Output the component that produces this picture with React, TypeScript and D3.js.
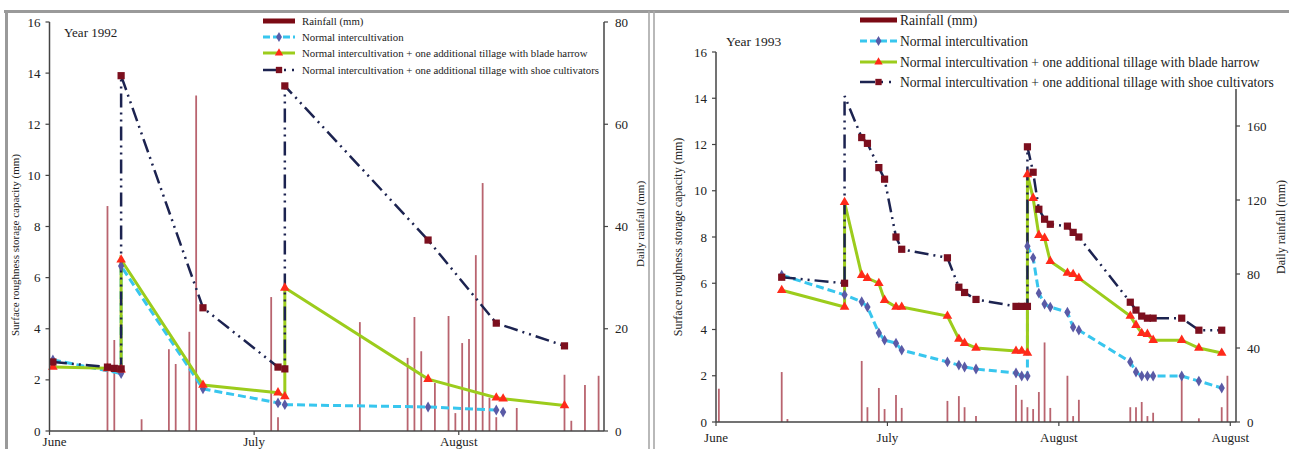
import React from 'react'
import * as d3 from 'd3'

// ---- 1992 season ----
const rain92Dates = ['1992-06-10', '1992-06-11', '1992-06-15', '1992-06-19', '1992-06-20', '1992-06-22', '1992-06-23', '1992-07-04', '1992-07-05', '1992-07-17', '1992-07-24', '1992-07-25', '1992-07-26', '1992-07-28', '1992-07-30', '1992-07-31', '1992-08-01', '1992-08-02', '1992-08-03', '1992-08-04', '1992-08-05', '1992-08-06', '1992-08-09', '1992-08-16', '1992-08-17', '1992-08-19', '1992-08-21']
const rain92 = [44, 17.8, 2.3, 16, 13.1, 19.4, 65.6, 26.2, 2.7, 21.3, 14.3, 22.3, 15.6, 9.4, 22.5, 3.5, 17.2, 18, 34.4, 48.5, 6.5, 2.7, 4.5, 11, 2, 9, 10.8]

const normal92Dates = ['1992-06-02', '1992-06-12', '1992-06-12', '1992-06-24', '1992-07-05', '1992-07-06', '1992-07-27', '1992-08-06', '1992-08-07']
const normal92 = [2.78, 2.25, 6.45, 1.65, 1.1, 1.03, 0.94, 0.82, 0.74]

const blade92Dates = ['1992-06-02', '1992-06-10', '1992-06-12', '1992-06-12', '1992-06-24', '1992-07-05', '1992-07-06', '1992-07-06', '1992-07-27', '1992-08-06', '1992-08-07', '1992-08-16']
const blade92 = [2.5, 2.45, 2.4, 6.7, 1.8, 1.5, 1.35, 5.6, 2.03, 1.3, 1.26, 1.0]

const shoe92Dates = ['1992-06-02', '1992-06-10', '1992-06-11', '1992-06-12', '1992-06-12', '1992-06-24', '1992-07-05', '1992-07-06', '1992-07-06', '1992-07-27', '1992-08-06', '1992-08-16']
const shoe92 = [2.7, 2.5, 2.45, 2.43, 13.9, 4.82, 2.5, 2.43, 13.5, 7.47, 4.22, 3.33]

// ---- 1993 season ----
const rain93Dates = ['1993-06-02', '1993-06-13', '1993-06-14', '1993-06-27', '1993-06-28', '1993-06-30', '1993-07-01', '1993-07-03', '1993-07-04', '1993-07-12', '1993-07-14', '1993-07-15', '1993-07-17', '1993-07-24', '1993-07-25', '1993-07-26', '1993-07-27', '1993-07-28', '1993-07-29', '1993-07-30', '1993-08-02', '1993-08-03', '1993-08-04', '1993-08-13', '1993-08-14', '1993-08-15', '1993-08-16', '1993-08-17', '1993-08-22', '1993-08-25', '1993-08-29', '1993-08-30']
const rain93 = [18, 27, 1.6, 33, 8, 18.4, 7, 14.6, 7.6, 11.4, 14, 8, 3.2, 20, 12, 8, 7, 16.2, 43, 7.6, 25, 3.2, 12, 8, 8, 10.8, 3.2, 5, 25, 2, 8, 25]

const normal93Dates = ['1993-06-13', '1993-06-24', '1993-06-27', '1993-06-28', '1993-06-30', '1993-07-01', '1993-07-03', '1993-07-04', '1993-07-12', '1993-07-14', '1993-07-15', '1993-07-17', '1993-07-24', '1993-07-25', '1993-07-26', '1993-07-26', '1993-07-27', '1993-07-28', '1993-07-29', '1993-07-30', '1993-08-02', '1993-08-03', '1993-08-04', '1993-08-13', '1993-08-14', '1993-08-15', '1993-08-16', '1993-08-17', '1993-08-22', '1993-08-25', '1993-08-29']
const normal93 = [6.35, 5.5, 5.2, 4.97, 3.85, 3.54, 3.41, 3.11, 2.6, 2.46, 2.38, 2.29, 2.12, 1.99, 1.99, 7.6, 7.1, 5.57, 5.1, 4.97, 4.75, 4.1, 3.97, 2.6, 2.16, 1.99, 1.99, 1.99, 1.99, 1.77, 1.47]

const blade93Dates = ['1993-06-13', '1993-06-24', '1993-06-24', '1993-06-27', '1993-06-28', '1993-06-30', '1993-07-01', '1993-07-03', '1993-07-04', '1993-07-12', '1993-07-14', '1993-07-15', '1993-07-17', '1993-07-24', '1993-07-25', '1993-07-26', '1993-07-26', '1993-07-27', '1993-07-28', '1993-07-29', '1993-07-30', '1993-08-02', '1993-08-03', '1993-08-04', '1993-08-13', '1993-08-14', '1993-08-15', '1993-08-16', '1993-08-17', '1993-08-22', '1993-08-25', '1993-08-29']
const blade93 = [5.7, 4.97, 9.5, 6.35, 6.22, 6.0, 5.27, 4.97, 4.97, 4.58, 3.59, 3.41, 3.2, 3.07, 3.07, 2.98, 10.7, 9.68, 8.08, 7.95, 6.95, 6.44, 6.39, 6.22, 4.58, 4.19, 3.84, 3.8, 3.54, 3.54, 3.2, 2.98]

const shoe93Dates = ['1993-06-13', '1993-06-24', '1993-06-24', '1993-06-27', '1993-06-28', '1993-06-30', '1993-07-01', '1993-07-03', '1993-07-04', '1993-07-12', '1993-07-14', '1993-07-15', '1993-07-17', '1993-07-24', '1993-07-25', '1993-07-26', '1993-07-26', '1993-07-27', '1993-07-28', '1993-07-29', '1993-07-30', '1993-08-02', '1993-08-03', '1993-08-04', '1993-08-13', '1993-08-14', '1993-08-15', '1993-08-16', '1993-08-17', '1993-08-22', '1993-08-25', '1993-08-29']
const shoe93 = [6.26, 6.0, 14.1, 12.3, 12.05, 11.0, 10.5, 8.0, 7.47, 7.1, 5.83, 5.6, 5.3, 5.0, 5.0, 5.0, 11.9, 10.8, 9.2, 8.77, 8.55, 8.47, 8.2, 8.0, 5.18, 4.84, 4.58, 4.49, 4.49, 4.49, 3.97, 3.97]

// ---- axes / labels ----
const surfaceTicks = [0, 2, 4, 6, 8, 10, 12, 14, 16]
const rainTicks92 = [0, 20, 40, 60, 80]
const rainTicks93 = [0, 40, 80, 120, 160]
const monthLabels92 = ['June', 'July', 'August']
const monthLabels93 = ['June', 'July', 'August', 'August']
const legendLabels = [
  'Rainfall (mm)',
  'Normal intercultivation',
  'Normal intercultivation + one additional tillage with blade harrow',
  'Normal intercultivation + one additional tillage with shoe cultivators'
]
const leftTitle = 'Surface roughness storage capacity (mm)'
const rightTitle = 'Daily rainfall (mm)'

const FONT = "'Liberation Serif', 'DejaVu Serif', serif"
const TEXT = '#222'
const AXIS = '#444'

const styles = {
  normal: { stroke: '#38c6ee', width: 3, dash: '8 4', marker: d3.symbolDiamond, size: 34, fill: '#5a5aa6' },
  blade: { stroke: '#9ccc1c', width: 3, dash: null, marker: d3.symbolTriangle, size: 40, fill: '#ff2a1a' },
  shoe: { stroke: '#1c2350', width: 2.5, dash: '14 5 2 5 2 5', marker: d3.symbolSquare, size: 52, fill: '#7c0f1e' }
}

const noon = (s: string) => new Date(s + 'T12:00:00')

function Panel({ cfg }: { cfg: any }) {
  const start = new Date(cfg.startDate + 'T00:00:00')
  const end = d3.timeHour.offset(start, Math.round(cfg.spanDays * 24))

  const x = d3.scaleTime().domain([start, end]).range([cfg.x0, cfg.x1])
  const y = d3.scaleLinear().domain([0, 16]).range([cfg.yBottom, cfg.yTop])
  const r = d3.scaleLinear().domain([0, cfg.rainMax]).range([cfg.yBottom, cfg.rainTopY])

  const monthTicks = cfg.months.map((_: string, i: number) => d3.timeDay.offset(start, 30 * i))

  const line = d3
    .line<[Date, number]>()
    .x(d => x(d[0]))
    .y(d => y(d[1]))

  const series = cfg.series.map((s: any) => ({
    ...s,
    pts: s.dates.map((dt: string, i: number) => [noon(dt), s.values[i]] as [Date, number])
  }))

  const lg = cfg.legend
  const lgMid = (lg.x0 + lg.x1) / 2

  return (
    <g style={{ fontFamily: FONT }} fill={TEXT}>
      {/* rainfall bars */}
      {cfg.rainDates.map((dt: string, i: number) => (
        <line
          key={'r' + i}
          x1={x(noon(dt))}
          x2={x(noon(dt))}
          y1={r(0)}
          y2={r(cfg.rain[i])}
          stroke="#b9646f"
          strokeWidth={1.8}
        />
      ))}

      {/* series lines */}
      {series.map((s: any) => {
        const st = (styles as any)[s.kind]
        return (
          <path
            key={'l' + s.kind}
            d={line(s.pts) || ''}
            fill="none"
            stroke={st.stroke}
            strokeWidth={st.width}
            strokeDasharray={st.dash || undefined}
          />
        )
      })}
      {/* markers */}
      {series.map((s: any) => {
        const st = (styles as any)[s.kind]
        const sym = d3.symbol(st.marker, st.size)()
        return s.pts.map((p: [Date, number], i: number) =>
          (s.hide || []).includes(i) ? null : (
            <path
              key={s.kind + 'm' + i}
              d={sym || ''}
              transform={`translate(${x(p[0])},${y(p[1])})`}
              fill={st.fill}
            />
          )
        )
      })}

      {/* left axis */}
      <line x1={cfg.x0} x2={cfg.x0} y1={cfg.yBottom} y2={cfg.yTop} stroke={AXIS} strokeWidth={1.5} />
      {surfaceTicks.map(t => (
        <g key={'yl' + t}>
          <line x1={cfg.x0 - 4} x2={cfg.x0} y1={y(t)} y2={y(t)} stroke={AXIS} strokeWidth={1.2} />
          <text x={cfg.x0 - 9} y={y(t)} dy="0.35em" textAnchor="end" fontSize={cfg.tickSize}>
            {t}
          </text>
        </g>
      ))}

      {/* right axis */}
      <line x1={cfg.x1} x2={cfg.x1} y1={cfg.yBottom} y2={cfg.rainTopY} stroke={AXIS} strokeWidth={1.5} />
      {cfg.rainTicks.map((t: number) => (
        <g key={'yr' + t}>
          <line x1={cfg.x1} x2={cfg.x1 + 4} y1={r(t)} y2={r(t)} stroke={AXIS} strokeWidth={1.2} />
          <text x={cfg.x1 + 11} y={r(t)} dy="0.35em" fontSize={cfg.tickSize}>
            {t}
          </text>
        </g>
      ))}

      {/* x axis */}
      <line x1={cfg.x0} x2={cfg.x1} y1={cfg.yBottom} y2={cfg.yBottom} stroke={AXIS} strokeWidth={1.5} />
      {monthTicks.map((t: Date, i: number) => (
        <g key={'xt' + i}>
          <line x1={x(t)} x2={x(t)} y1={cfg.yBottom} y2={cfg.yBottom + 4} stroke={AXIS} strokeWidth={1.2} />
          <text x={x(t) + (i === 0 ? cfg.firstMonthShift : 0)} y={cfg.monthY} textAnchor="middle" fontSize={cfg.tickSize}>
            {cfg.months[i]}
          </text>
        </g>
      ))}

      {/* axis titles */}
      <text
        transform={`translate(${cfg.leftTitle[0]},${cfg.leftTitle[1]}) rotate(-90)`}
        textAnchor="middle"
        dy="0.35em"
        fontSize={cfg.titleSize}
      >
        {leftTitle}
      </text>
      <text
        transform={`translate(${cfg.rightTitle[0]},${cfg.rightTitle[1]}) rotate(-90)`}
        textAnchor="middle"
        dy="0.35em"
        fontSize={cfg.titleSize}
      >
        {rightTitle}
      </text>

      {/* year label */}
      <text x={cfg.yearPos[0]} y={cfg.yearPos[1]} fontSize={cfg.yearSize}>
        {'Year ' + cfg.year}
      </text>

      {/* legend */}
      <g fontSize={lg.size}>
        <rect x={lg.x0} y={lg.rows[0] - 2.5} width={lg.x1 - lg.x0} height={5} fill="#7b0a14" />
        <line x1={lg.x0} x2={lg.x1} y1={lg.rows[1]} y2={lg.rows[1]} stroke={styles.normal.stroke} strokeWidth={3} strokeDasharray="7 3" />
        <path d={d3.symbol(styles.normal.marker, 30)() || ''} transform={`translate(${lgMid},${lg.rows[1]})`} fill={styles.normal.fill} />
        <line x1={lg.x0} x2={lg.x1} y1={lg.rows[2]} y2={lg.rows[2]} stroke={styles.blade.stroke} strokeWidth={3} />
        <path d={d3.symbol(styles.blade.marker, 30)() || ''} transform={`translate(${lgMid},${lg.rows[2]})`} fill={styles.blade.fill} />
        <line x1={lg.x0} x2={lg.x1} y1={lg.rows[3]} y2={lg.rows[3]} stroke={styles.shoe.stroke} strokeWidth={2.5} strokeDasharray="15 6 2 6 2 20" />
        <path d={d3.symbol(styles.shoe.marker, 40)() || ''} transform={`translate(${lgMid},${lg.rows[3]})`} fill={styles.shoe.fill} />
        {legendLabels.map((t, i) => (
          <text key={'lg' + i} x={lg.tx} y={lg.rows[i]} dy="0.35em">
            {t}
          </text>
        ))}
      </g>
    </g>
  )
}

const panel92 = {
  year: 1992,
  startDate: '1992-06-02',
  spanDays: 81.3,
  x0: 49.5,
  x1: 604,
  yBottom: 431,
  yTop: 22,
  rainMax: 80,
  rainTopY: 22,
  rainTicks: rainTicks92,
  months: monthLabels92,
  monthY: 446,
  firstMonthShift: 5,
  tickSize: 13,
  titleSize: 11,
  yearSize: 13,
  yearPos: [64, 37],
  leftTitle: [15, 245],
  rightTitle: [640, 224],
  legend: { x0: 263, x1: 295, tx: 302, rows: [21, 37, 53, 70], size: 10.8 },
  rainDates: rain92Dates,
  rain: rain92,
  series: [
    { kind: 'normal', dates: normal92Dates, values: normal92 },
    { kind: 'blade', dates: blade92Dates, values: blade92 },
    { kind: 'shoe', dates: shoe92Dates, values: shoe92 }
  ]
}

const panel93 = {
  year: 1993,
  startDate: '1993-06-02',
  spanDays: 91,
  x0: 716,
  x1: 1236,
  yBottom: 422,
  yTop: 52,
  rainMax: 180,
  rainTopY: 89,
  rainTicks: rainTicks93,
  months: monthLabels93,
  monthY: 442,
  firstMonthShift: 0,
  tickSize: 13,
  titleSize: 12,
  yearSize: 13.5,
  yearPos: [726, 46],
  leftTitle: [678, 237],
  rightTitle: [1281, 227],
  legend: { x0: 860, x1: 897, tx: 900, rows: [20, 41, 62, 82], size: 13.6 },
  rainDates: rain93Dates,
  rain: rain93,
  series: [
    { kind: 'normal', dates: normal93Dates, values: normal93 },
    { kind: 'blade', dates: blade93Dates, values: blade93 },
    { kind: 'shoe', dates: shoe93Dates, values: shoe93, hide: [2] }
  ]
}

export default function App() {
  const width = 1289
  const height = 449
  return (
    <svg
      width={width}
      height={height}
      style={{ position: 'absolute', left: 0, top: 0, background: '#fff' }}
    >
      <rect width={width} height={height} fill="#fff" />
      {/* frame */}
      <line x1={4} x2={width} y1={11.5} y2={11.5} stroke="#9a9a9a" strokeWidth={3} />
      <line x1={6.5} x2={6.5} y1={10} y2={height} stroke="#9a9a9a" strokeWidth={3} />
      <line x1={649} x2={649} y1={11} y2={height} stroke="#a8a8a8" strokeWidth={1.6} />
      <line x1={654} x2={654} y1={11} y2={height} stroke="#a8a8a8" strokeWidth={1.6} />
      <Panel cfg={panel92} />
      <Panel cfg={panel93} />
    </svg>
  )
}
